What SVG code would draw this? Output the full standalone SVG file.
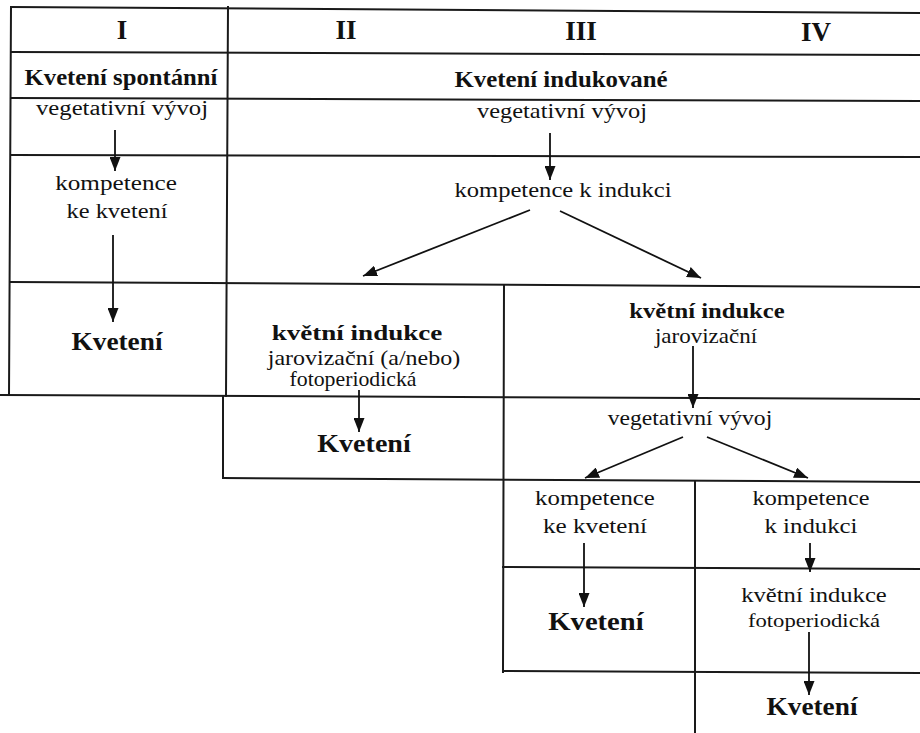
<svg xmlns="http://www.w3.org/2000/svg" width="920" height="733" viewBox="0 0 920 733">
<style>
.grid line{stroke:#1a1a1a;stroke-width:2;stroke-linecap:square}
text{font-family:"Liberation Serif","DejaVu Serif",serif;fill:#111;text-anchor:middle}
.h{font-size:27px;font-weight:bold}
.b{font-size:23px;font-weight:bold}
.bk{font-size:22px;font-weight:bold}
.big{font-size:26px;font-weight:bold}
.r{font-size:20px}
.s{font-size:18px}
.conn line{stroke:#111;stroke-width:1.8;marker-end:url(#ah)}
</style>
<defs>
<marker id="ah" markerUnits="userSpaceOnUse" markerWidth="15" markerHeight="11" refX="14" refY="5.5" orient="auto">
<path d="M0,0 L14,5.5 L0,11 z" fill="#111"/>
</marker>
</defs>
<rect width="920" height="733" fill="#fff"/>
<g id="grid" class="grid">
<line x1="11" y1="7" x2="920" y2="13"/>
<line x1="11" y1="52" x2="920" y2="55"/>
<line x1="11" y1="98" x2="920" y2="101"/>
<line x1="11" y1="155" x2="920" y2="157"/>
<line x1="11" y1="282" x2="920" y2="287"/>
<line x1="0" y1="395" x2="920" y2="399"/>
<line x1="223" y1="478" x2="920" y2="482"/>
<line x1="503" y1="567" x2="920" y2="569"/>
<line x1="503" y1="671" x2="920" y2="673"/>
<line x1="11" y1="7" x2="9" y2="395"/>
<line x1="228" y1="7" x2="226" y2="396"/>
<line x1="223" y1="396" x2="223" y2="478"/>
<line x1="504" y1="285" x2="503" y2="672"/>
<line x1="695" y1="481" x2="695" y2="733"/>
</g>
<g id="headers">
<text class="h" x="122" y="39">I</text>
<text class="h" x="346" y="39">II</text>
<text class="h" x="581" y="40">III</text>
<text class="h" x="816" y="41">IV</text>
</g>
<g id="spontaneous-title"><text class="b" transform="translate(121,85) scale(1.075,1)">Kvetení spontánní</text></g>
<g id="induced-title"><text class="b" transform="translate(561,87) scale(1.08,1)">Kvetení indukované</text></g>
<g id="I-veg"><text class="r" transform="translate(122,115) scale(1.234,1)">vegetativní vývoj</text></g>
<g id="I-comp"><text class="r" transform="translate(116,190) scale(1.26,1)">kompetence</text><text class="r" transform="translate(117,218) scale(1.22,1)">ke kvetení</text></g>
<g id="I-flower"><text class="big" transform="translate(117,350) scale(1.05,1)">Kvetení</text></g>
<g id="II-veg"><text class="r" transform="translate(562,118) scale(1.22,1)">vegetativní vývoj</text></g>
<g id="II-comp"><text class="r" transform="translate(563,197) scale(1.23,1)">kompetence k indukci</text></g>
<g id="II-ind"><text class="bk" transform="translate(357,340) scale(1.23,1)">květní indukce</text><text class="r" transform="translate(364,365) scale(1.2,1)">jarovizační (a/nebo)</text><text class="r" transform="translate(353,386) scale(1.09,1)">fotoperiodická</text></g>
<g id="II-flower"><text class="big" transform="translate(364,452) scale(1.08,1)">Kvetení</text></g>
<g id="III-ind"><text class="bk" transform="translate(707,318) scale(1.12,1)">květní indukce</text><text class="r" transform="translate(706,343) scale(1.15,1)">jarovizační</text></g>
<g id="III-veg"><text class="r" transform="translate(690,425) scale(1.18,1)">vegetativní vývoj</text></g>
<g id="III-comp"><text class="r" transform="translate(595,505) scale(1.24,1)">kompetence</text><text class="r" transform="translate(595,533) scale(1.26,1)">ke kvetení</text></g>
<g id="III-flower"><text class="big" transform="translate(596,630) scale(1.1,1)">Kvetení</text></g>
<g id="IV-comp"><text class="r" transform="translate(811,505) scale(1.21,1)">kompetence</text><text class="r" transform="translate(811,533) scale(1.24,1)">k indukci</text></g>
<g id="IV-ind"><text class="r" transform="translate(814,602) scale(1.23,1)">květní indukce</text><text class="s" transform="translate(814,627) scale(1.26,1)">fotoperiodická</text></g>
<g id="IV-flower"><text class="big" transform="translate(812,715) scale(1.05,1)">Kvetení</text></g>
<g id="connectors" class="conn">
<line x1="115" y1="130" x2="115" y2="171"/>
<line x1="113" y1="235" x2="113" y2="322"/>
<line x1="550" y1="133" x2="550" y2="180"/>
<line x1="530" y1="210" x2="363" y2="276"/>
<line x1="560" y1="211" x2="701" y2="278"/>
<line x1="359" y1="390" x2="359" y2="432"/>
<line x1="693" y1="346" x2="693" y2="408"/>
<line x1="683" y1="437" x2="585" y2="478"/>
<line x1="707" y1="437" x2="808" y2="478"/>
<line x1="584" y1="543" x2="584" y2="607"/>
<line x1="810" y1="543" x2="810" y2="572"/>
<line x1="809" y1="632" x2="809" y2="695"/>
</g>
</svg>
